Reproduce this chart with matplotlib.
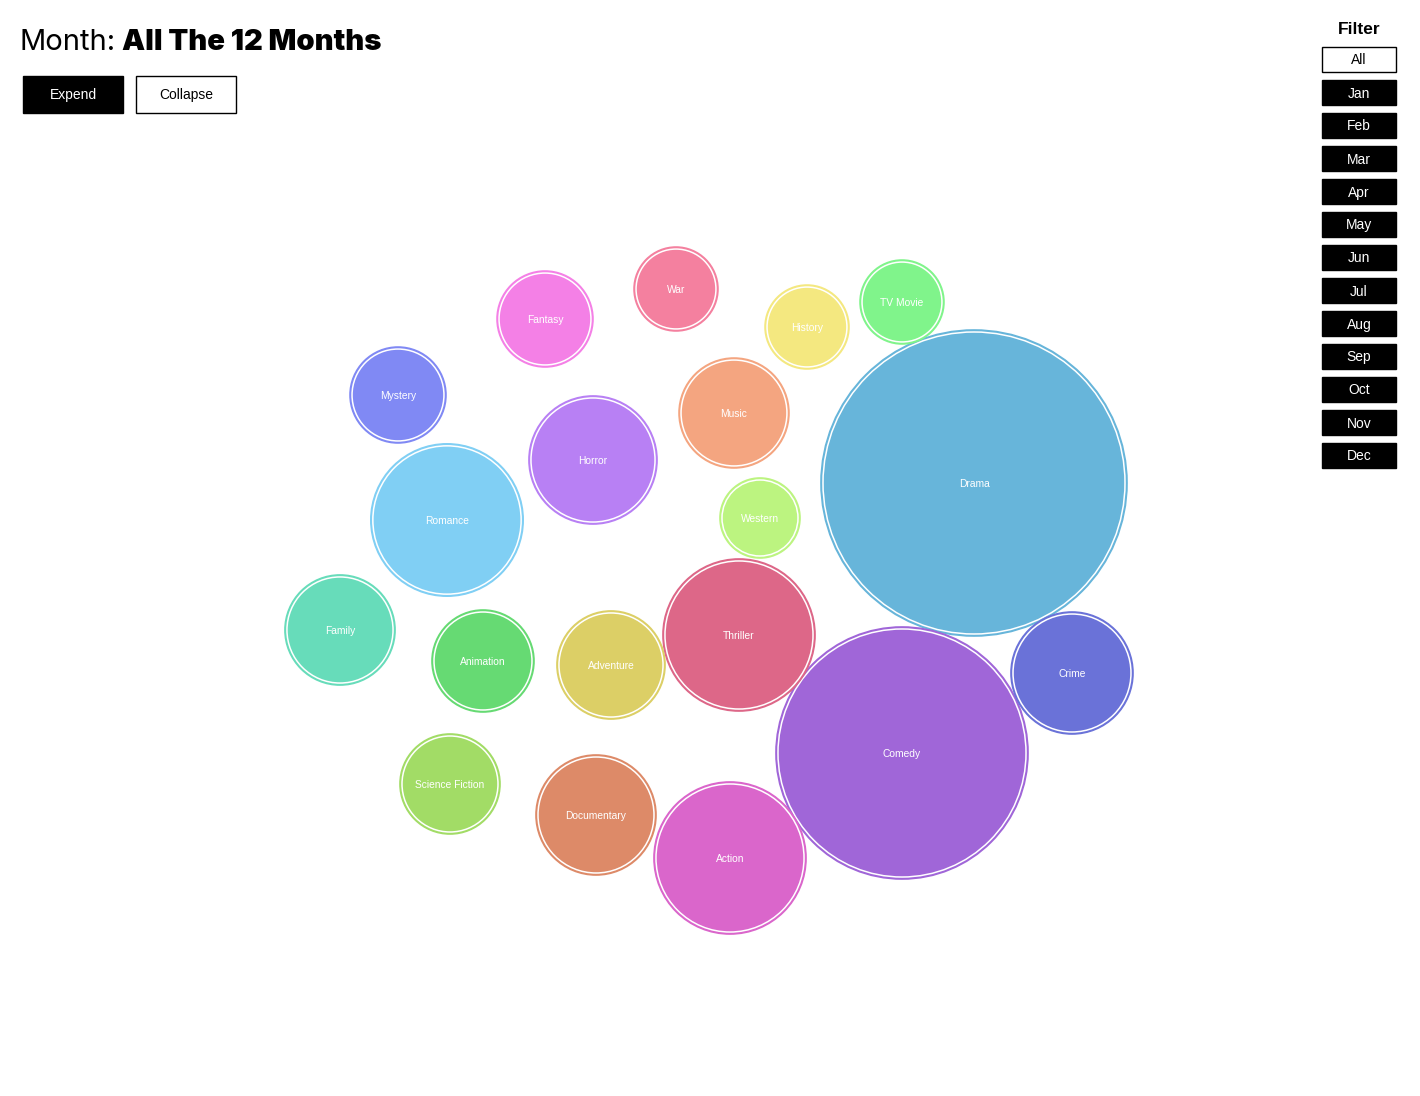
import numpy as np
import matplotlib
matplotlib.use('Agg')
import matplotlib.pyplot as plt
from matplotlib.patches import Circle, Rectangle

# genres and number of movies (bubble area ~ count)
genres = ['Drama', 'Comedy', 'Crime', 'Thriller', 'Action', 'Documentary',
          'Adventure', 'Animation', 'Science Fiction', 'Family', 'Romance',
          'Mystery', 'Horror', 'Fantasy', 'War', 'History', 'TV Movie',
          'Music', 'Western']
counts = [2341, 1588, 372, 578, 578, 360, 292, 260, 250, 303, 580,
          230, 410, 230, 176, 176, 176, 302, 160]
colors = ['#67b5da', '#a066d8', '#6a72d8', '#dd6788', '#da66cb', '#dd8a68',
          '#dccf66', '#66da73', '#a2dc66', '#67dcba', '#80cff4',
          '#8089f4', '#b880f4', '#f480e6', '#f4809f', '#f4e880', '#80f48b',
          '#f4a580', '#bcf480']

# packed layout (force simulation result)
cx = [974, 902, 1072, 739, 730, 596, 611, 483, 450, 340, 447,
      398, 593, 545, 676, 807, 902, 734, 760]
cy = [483, 753, 673, 635, 858, 815, 665, 661, 784, 630, 520,
      395, 460, 319, 289, 327, 302, 413, 518]

months = ['All', 'Jan', 'Feb', 'Mar', 'Apr', 'May', 'Jun', 'Jul', 'Aug',
          'Sep', 'Oct', 'Nov', 'Dec']

W, H = 1420, 1096
fig = plt.figure(figsize=(W / 100, H / 100), dpi=100)
ax = fig.add_axes([0, 0, 1, 1])
ax.set_xlim(0, W)
ax.set_ylim(H, 0)
ax.set_aspect('equal')
ax.axis('off')

radii = np.sqrt(np.array(counts)) * np.sqrt(10)

for g, r, c, x, y in zip(genres, radii, colors, cx, cy):
    ax.add_patch(Circle((x, y), r, facecolor=c, edgecolor=c, lw=1.2))
    ax.add_patch(Circle((x, y), r - 2.0, facecolor='none', edgecolor='white', lw=1.1))
    ax.text(x, y + 4, g, color='white', fontsize=7.4, ha='center', va='baseline',
            family='Liberation Sans')

# title
t1 = ax.text(20, 50, 'Month:', fontsize=21, family='Inter', va='baseline', ha='left')
fig.canvas.draw()
bb = t1.get_window_extent().transformed(ax.transData.inverted())
ax.text(bb.x1 + 6, 50, 'All The 12 Months', fontsize=21, family='Inter',
        weight='black', va='baseline', ha='left')

# expand / collapse buttons
ax.add_patch(Rectangle((23, 76), 100, 37, facecolor='black', edgecolor='black', lw=1))
ax.text(73, 99.5, 'Expend', color='white', fontsize=10, ha='center', va='baseline',
        family='Liberation Sans')
ax.add_patch(Rectangle((136, 76), 100, 37, facecolor='white', edgecolor='black', lw=1))
ax.text(186, 99.5, 'Collapse', color='black', fontsize=10, ha='center', va='baseline',
        family='Liberation Sans')

# month filter
ax.text(1359, 29, 'Filter', fontsize=12.5, weight='bold', ha='center', va='center',
        family='Liberation Sans')
for i, m in enumerate(months):
    y0 = 47 + 33 * i
    fc = 'white' if i == 0 else 'black'
    tc = 'black' if i == 0 else 'white'
    ax.add_patch(Rectangle((1322, y0), 74, 25, facecolor=fc, edgecolor='black', lw=1))
    ax.text(1359, y0 + 17.5, m, color=tc, fontsize=10, ha='center', va='baseline',
            family='Liberation Sans')

fig.savefig('out.png', dpi=100)
